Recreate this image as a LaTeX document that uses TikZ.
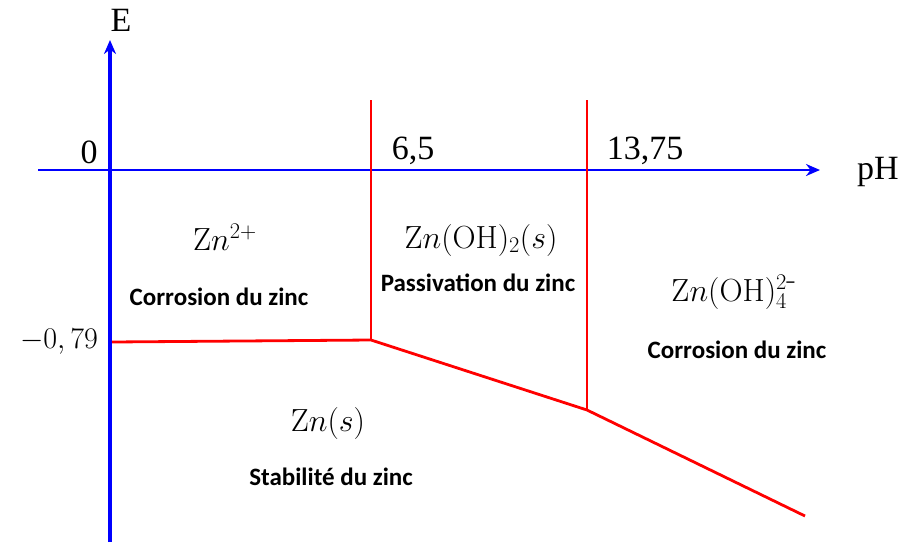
\RequirePackage{fix-cm}
\documentclass[tikz,border=0pt]{standalone}
\usepackage{fontspec}
\usetikzlibrary{arrows.meta}
\newfontfamily\tms{Liberation Serif}
\newfontfamily\carl{Carlito}
\begin{document}
\begin{tikzpicture}[x=1pt,y=-1pt,
  axis/.style={blue,line width=3.4pt,-{Stealth[length=14pt,width=12pt]}},
  bound/.style={red,line width=2.8pt},
  axlab/.style={font=\tms\fontsize{34}{36}\selectfont,inner sep=0pt},
  spec/.style={font=\fontsize{32}{34}\selectfont,inner sep=0pt},
  desc/.style={font=\carl\bfseries\fontsize{25}{27}\selectfont,inner sep=0pt}]
\useasboundingbox (0,0) rectangle (908,542);
% axes
\coordinate (ybot) at (110,542);
\coordinate (ytop) at (110,40);
\coordinate (xl) at (38,170);
\coordinate (xr) at (820,170);
\draw[axis] (ybot) -- (ytop);
\draw[axis,line width=2.8pt] (xl) -- (xr);
\node[axlab] (E) at (121,20) {E};
\node[axlab] (pH) at (878,172) {pH};
\node[axlab] (zero) at (89,152) {0};
\node[axlab] (v65) at (413,151) {6,5};
\node[axlab] (v1375) at (645,151) {13,75};
\node[font=\fontsize{30}{32}\selectfont,inner sep=0pt,anchor=east] (m079) at (98,342) {$-0,79$};
% boundaries
\coordinate (a1) at (112,342);
\coordinate (a2) at (371,340);
\coordinate (a2t) at (371,100);
\coordinate (a3) at (587,410);
\coordinate (a3t) at (587,100);
\coordinate (a4) at (805,516);
\draw[bound] (a1) -- (a2) -- (a3) -- (a4);
\draw[bound] (a2t) -- (a2);
\draw[bound] (a3t) -- (a3);
% species
\node[spec] (s1) at (225,237) {$\mathrm{Z}n^{2+}$};
\node[desc] (d1) at (219,297) {Corrosion du zinc};
\node[spec] (s2) at (481,240) {$\mathrm{Z}n(\mathrm{OH})_2(s)$};
\node[desc] (d2) at (478,283) {Passivation du zinc};
\node[spec] (s3) at (734,292) {$\mathrm{Z}n(\mathrm{OH})_4^{2\textrm{-}}$};
\node[desc] (d3) at (737,350) {Corrosion du zinc};
\node[spec] (s4) at (328,423) {$\mathrm{Z}n(s)$};
\node[desc] (d4) at (331,477) {Stabilité du zinc};
\end{tikzpicture}
\end{document}
